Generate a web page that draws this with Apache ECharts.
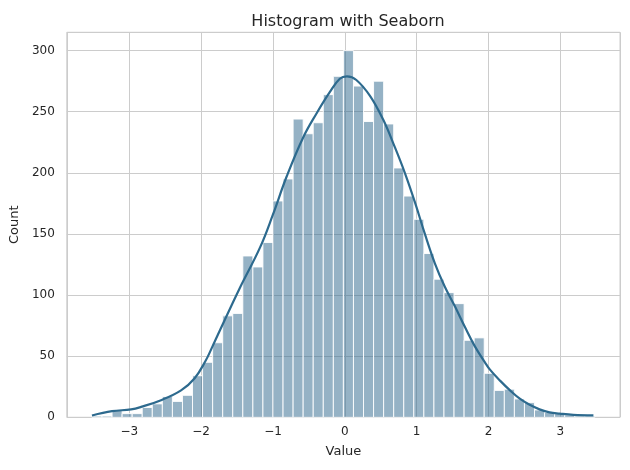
<!DOCTYPE html>
<html>
<head>
<meta charset="utf-8">
<script src="https://cdn.jsdelivr.net/npm/echarts@6/dist/echarts.min.js"></script>
<style>
html,body{margin:0;padding:0;background:#fff;}
#chart{width:630px;height:470px;}
</style>
</head>
<body>
<div id="chart"></div>
<script>
// Histogram bins: 50 equal-width bins
var binStart = -3.52;
var binWidth = 0.14;
var binCounts = [1, 1, 6, 3, 3, 8, 11, 17, 13, 18,
                 34, 45, 61, 83, 85, 132, 123, 143, 177, 195,
                 244, 232, 241, 264, 279, 300, 271, 242, 275, 240,
                 204, 181, 162, 134, 113, 102, 93, 63, 65, 36,
                 22, 23, 15, 12, 6, 4, 3, 2, 1, 1];
// KDE curve (x, count)
var kdeX = [-3.52, -3.24, -2.975, -2.836, -2.558, -2.28, -2.09, -1.94, -1.85, -1.74,
            -1.46, -1.18, -1.0, -0.81, -0.58, -0.39, -0.21, -0.07, 0.03, 0.16,
            0.35, 0.53, 0.696, 0.835, 0.975, 1.114, 1.253, 1.39, 1.53, 1.67,
            1.81, 1.95, 2.02, 2.16, 2.30, 2.44, 2.58, 2.71, 2.85, 2.99, 3.18, 3.46];
var kdeY = [1.5, 5, 6.5, 8.5, 14, 22, 32, 46, 57, 71,
            106, 139, 166, 197, 229, 249, 266, 277, 279, 276,
            263, 244, 221, 200, 176, 150, 126, 107, 91, 74,
            58, 45, 39, 30, 22, 15, 10, 6.5, 4, 3, 2, 1.5];
var xTicks = [-3, -2, -1, 0, 1, 2, 3];

var histData = binCounts.map(function (c, i) {
  return [binStart + i * binWidth, binStart + (i + 1) * binWidth, c];
});
var kdeData = kdeX.map(function (x, i) { return [x, kdeY[i]]; });

var FONT = 'DejaVu Sans';
var TXT = '#262626';
var chart = echarts.init(document.getElementById('chart'), null, {renderer: 'canvas'});
chart.setOption({
  animation: false,
  backgroundColor: '#ffffff',
  title: {
    text: 'Histogram with Seaborn',
    left: 343, top: 9, textAlign: 'center',
    textStyle: {fontFamily: FONT, fontSize: 16, fontWeight: 'normal', color: TXT}
  },
  grid: {
    left: 66.3, right: 10, top: 32.3, bottom: 52.7,
    show: true, borderColor: '#cccccc', borderWidth: 1, backgroundColor: 'transparent'
  },
  xAxis: {
    type: 'value', min: -3.87, max: 3.83, minInterval: 1, maxInterval: 1,
    name: 'Value', nameLocation: 'middle', nameGap: 28,
    nameTextStyle: {fontFamily: FONT, fontSize: 13, color: TXT},
    axisLine: {show: false}, axisTick: {show: false},
    axisLabel: {
      fontFamily: FONT, fontSize: 12, color: TXT, margin: 9,
      showMinLabel: false, showMaxLabel: false,
      formatter: function (v) {
        if (xTicks.indexOf(v) < 0) return '';
        return (v < 0 ? '\u2212' : '') + Math.abs(v);
      }
    },
    splitLine: {show: true, lineStyle: {color: '#cccccc', width: 1}}
  },
  yAxis: {
    type: 'value', min: 0, max: 315, interval: 50,
    name: 'Count', nameLocation: 'middle', nameGap: 44,
    nameTextStyle: {fontFamily: FONT, fontSize: 13, color: TXT},
    axisLine: {show: false}, axisTick: {show: false},
    axisLabel: {fontFamily: FONT, fontSize: 12, color: TXT, margin: 12, showMaxLabel: false},
    splitLine: {show: true, lineStyle: {color: '#cccccc', width: 1}}
  },
  series: [
    {
      type: 'custom',
      data: histData,
      encode: {x: [0, 1], y: 2},
      renderItem: function (params, api) {
        var p0 = api.coord([api.value(0), api.value(2)]);
        var p1 = api.coord([api.value(1), 0]);
        return {
          type: 'rect',
          shape: {x: p0[0], y: p0[1], width: p1[0] - p0[0], height: p1[1] - p0[1]},
          style: {fill: 'rgba(44,102,140,0.5)', stroke: '#ffffff', lineWidth: 0.9}
        };
      },
      z: 2
    },
    {
      type: 'line',
      data: kdeData,
      smooth: 0.4,
      showSymbol: false,
      lineStyle: {color: '#2d6a8e', width: 2.2},
      z: 3
    }
  ]
});
</script>
</body>
</html>
